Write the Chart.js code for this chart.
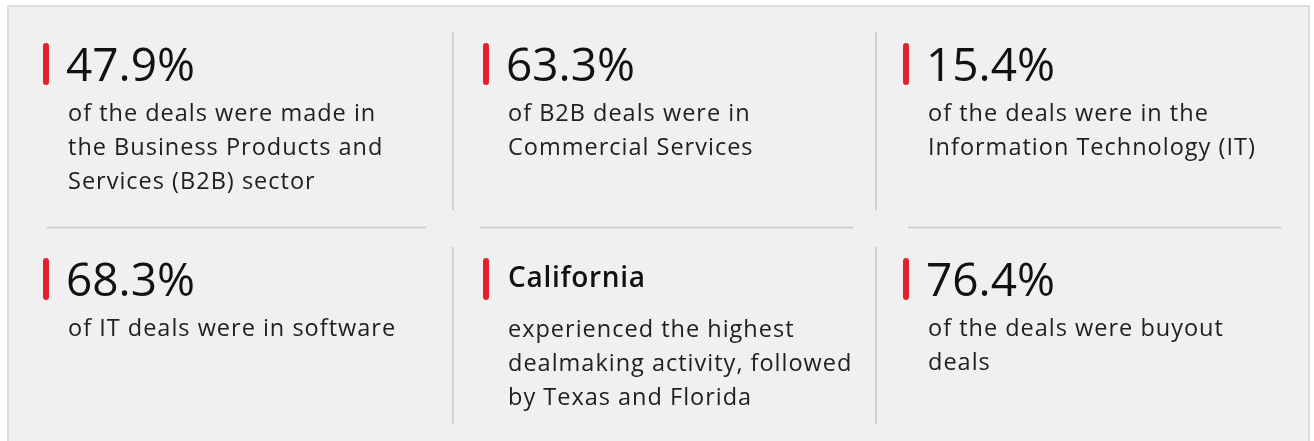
<!DOCTYPE html>
<html>
<head>
<meta charset="utf-8">
<script src="https://cdn.jsdelivr.net/npm/chart.js@4.4.1/dist/chart.umd.min.js"></script>
<style>
    html, body { margin: 0; padding: 0; background: #fff; }
    #statsCanvas { display: block; }
</style>
</head>
<body>
<canvas id="statsCanvas" width="1314" height="441"></canvas>
<script>
// Cifras principales (fila 1 y fila 2)
const statHeadlines = ['47.9%', '63.3%', '15.4%', '68.3%', 'California', '76.4%'];
const statNotes = [
    ['of the deals were made in', 'the Business Products and', 'Services (B2B) sector'],
    ['of B2B deals were in', 'Commercial Services'],
    ['of the deals were in the', 'Information Technology (IT)'],
    ['of IT deals were in software'],
    ['experienced the highest', 'dealmaking activity, followed', 'by Texas and Florida'],
    ['of the deals were buyout', 'deals']
];
// true = cifra grande, false = nombre (estado)
const statIsNumber = [true, true, true, true, false, true];

const FONT = "'Open Sans', 'Noto Sans', sans-serif";
const RED = '#e3202b';
const LINE = '#c8c8c8';

const textX = [68, 508, 928];
const ruleX = [[47, 426], [480, 853], [908, 1281]];

const cardsPlugin = {
    id: 'cards',
    beforeDraw(chart) {
        const ctx = chart.ctx;
        ctx.save();
        ctx.fillStyle = '#ffffff';
        ctx.fillRect(0, 0, chart.width, chart.height);
        // caja de fondo
        ctx.fillStyle = '#f0f0f0';
        ctx.fillRect(8, 6, 1301, 440);
        ctx.strokeStyle = '#dedede';
        ctx.lineWidth = 2;
        ctx.strokeRect(8, 6, 1301, 440);

        // separadores
        ctx.strokeStyle = LINE;
        ctx.lineWidth = 1.5;
        [453, 876].forEach(x => {
            ctx.beginPath();
            ctx.moveTo(x, 32); ctx.lineTo(x, 210);
            ctx.moveTo(x, 247); ctx.lineTo(x, 424);
            ctx.stroke();
        });
        ruleX.forEach(([a, b]) => {
            ctx.beginPath();
            ctx.moveTo(a, 227.5); ctx.lineTo(b, 227.5);
            ctx.stroke();
        });

        statHeadlines.forEach((head, i) => {
            const col = i % 3;
            const row = Math.floor(i / 3);
            const x = textX[col];
            const top = row === 0 ? 0 : 215;

            // barra roja
            ctx.fillStyle = RED;
            ctx.beginPath();
            ctx.roundRect(x - 25, top + 43, 6, 42, 3);
            ctx.fill();

            ctx.textBaseline = 'alphabetic';
            ctx.textAlign = 'left';
            let noteY;
            if (statIsNumber[i]) {
                ctx.fillStyle = '#111111';
                ctx.letterSpacing = '0px';
                ctx.font = '400 46px ' + FONT;
                ctx.fillText(head, x - 2, top + 81);
                noteY = top + 121;
            } else {
                ctx.fillStyle = '#111111';
                ctx.letterSpacing = '0.7px';
                ctx.font = '600 28px ' + FONT;
                ctx.fillText(head, x, top + 72);
                noteY = top + 122;
            }
            ctx.fillStyle = '#202020';
            ctx.letterSpacing = '1px';
            ctx.font = '400 23.5px ' + FONT;
            statNotes[i].forEach((line, j) => {
                ctx.fillText(line, x, noteY + j * 34);
            });
        });
        ctx.restore();
    }
};

new Chart(document.getElementById('statsCanvas').getContext('2d'), {
    type: 'scatter',
    data: { datasets: [{ data: [] }] },
    options: {
        responsive: false,
        animation: false,
        events: [],
        plugins: { legend: { display: false }, tooltip: { enabled: false } },
        scales: {
            x: { display: false, min: 0, max: 1 },
            y: { display: false, min: 0, max: 1 }
        }
    },
    plugins: [cardsPlugin]
});
</script>
</body>
</html>
